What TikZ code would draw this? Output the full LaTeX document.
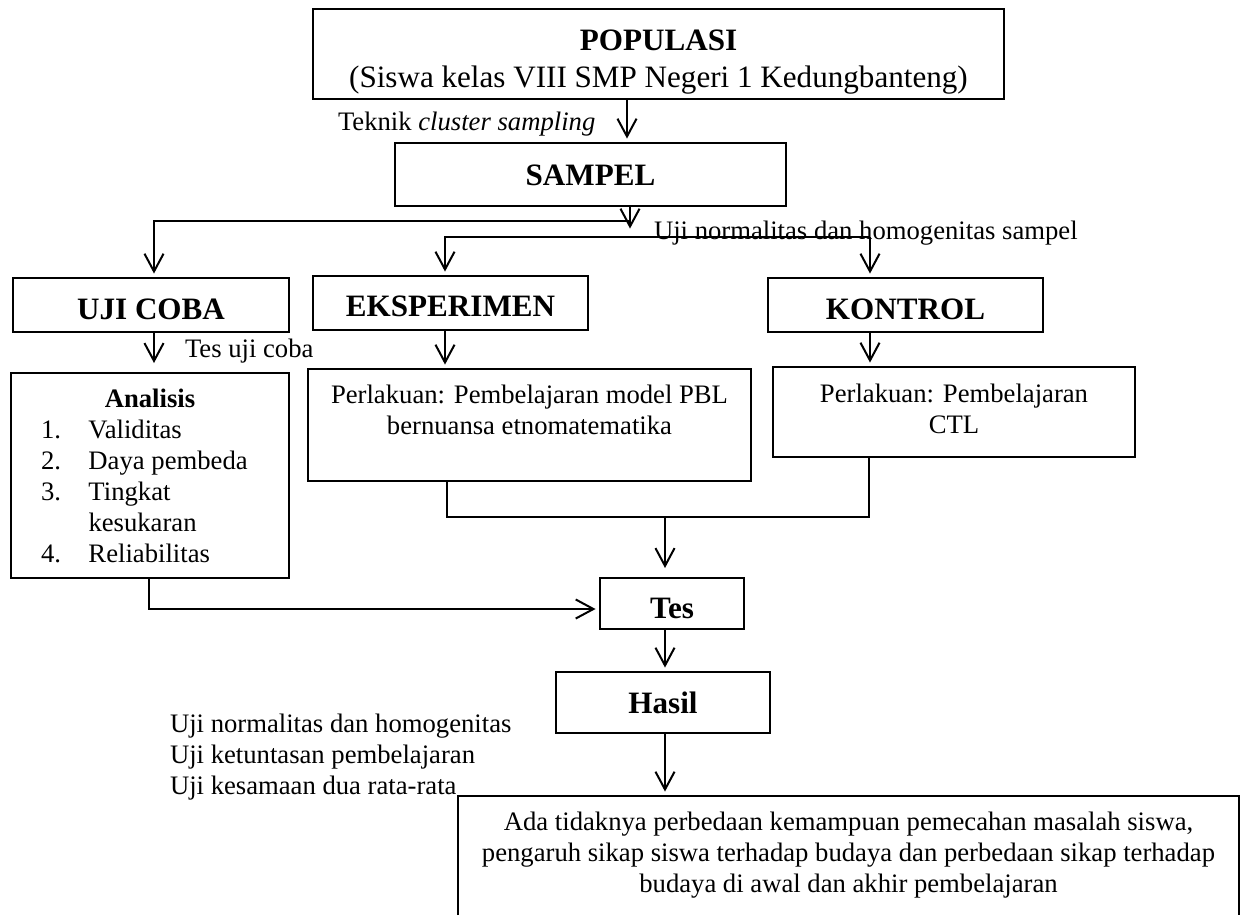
\documentclass[tikz,border=0pt]{standalone}
\usepackage{fontspec}
\setmainfont{Liberation Serif}
\usetikzlibrary{arrows.meta}
\newlength\pxs \setlength\pxs{0.45pt}
\newcommand\mybox[5]{\parbox[c][#2\pxs][t]{#1\pxs}{\vspace*{#3\pxs}\centering\rule{0pt}{#4\pxs}#5\par}}
\begin{document}
\begin{tikzpicture}[x=0.45pt, y=-0.45pt, line width=0.9pt,
  box/.style={draw, inner sep=0pt, outer sep=0pt},
  ttl/.style={box, font=\fontsize{14}{16.65}\selectfont\bfseries},
  big/.style={box, font=\fontsize{14}{16.65}\selectfont},
  bod/.style={box, font=\fontsize{12}{13.95}\selectfont},
  lbl/.style={inner sep=0pt, anchor=base west, font=\fontsize{12}{13.95}\selectfont},
  arr/.style={-{Straight Barb[length=8pt,width=8.6pt]}, shorten >=2pt},
  arrl/.style={arr, shorten >=4.5pt}]
\useasboundingbox (0,0) rectangle (1244,915);
\fill[white] (0,0) rectangle (1244,915);

% boxes
\node[big] (pop) at (658.5,54) {\mybox{691}{90}{19}{22}{\textbf{POPULASI}\\(Siswa kelas VIII SMP Negeri 1 Kedungbanteng)}};
\node[ttl] (sam) at (590.5,174.5) {\mybox{391}{63}{20}{22}{SAMPEL}};
\node[ttl] (uji) at (151,305) {\mybox{276}{54}{19}{22}{UJI COBA}};
\node[ttl] (eks) at (450.5,303) {\mybox{275}{54}{18}{22}{EKSPERIMEN}};
\node[ttl] (kon) at (905.5,305) {\mybox{275}{54}{19}{22}{KONTROL}};
\node[bod] (ana) at (150,475.5) {\mybox{278}{205}{15}{19}{\textbf{Analisis}\par\raggedright\hspace*{30\pxs}\begin{tabular}[t]{@{}p{47.5\pxs}@{}l@{}}1.&Validitas\\2.&Daya pembeda\\3.&Tingkat\\&kesukaran\\4.&Reliabilitas\end{tabular}}};
\node[bod] (pbl) at (529.5,425) {\mybox{443}{112}{15}{19}{Perlakuan: Pembelajaran model PBL\\bernuansa etnomatematika}};
\node[bod] (ctl) at (954,412) {\mybox{362}{90}{16}{19}{Perlakuan: Pembelajaran\\CTL}};
\node[ttl] (tes) at (672,603.5) {\mybox{144}{51}{18}{22}{Tes}};
\node[ttl] (has) at (663,702.5) {\mybox{214}{61}{19}{22}{Hasil}};
\node[bod, draw=none] (fin) at (848.5,855.5) {\mybox{781}{119}{15}{19}{Ada tidaknya perbedaan kemampuan pemecahan masalah siswa,\\pengaruh sikap siswa terhadap budaya dan perbedaan sikap terhadap\\budaya di awal dan akhir pembelajaran}};
\draw (fin.south west) -- (fin.north west) -- (fin.north east) -- (fin.south east);

% labels
\node[lbl] (tek) at (337,130) {Teknik \textit{cluster sampling}};
\node[lbl] (uns) at (653,239) {Uji normalitas dan homogenitas sampel};
\node[lbl] (tuc) at (184,357) {Tes uji coba};
\node[lbl] (ujl) at (169,732) {\begin{tabular}[t]{@{}l@{}}Uji normalitas dan homogenitas\\Uji ketuntasan pembelajaran\\Uji kesamaan dua rata-rata\end{tabular}};

% junction coordinates
\coordinate (xp) at (627,120);
\coordinate (sp) at (630,233);
\coordinate (jc) at (630,221);
\coordinate (ju) at (154,221);
\coordinate (je) at (445,237);
\coordinate (jk) at (870,237);
\coordinate (bl) at (447,517);
\coordinate (br) at (869,517);
\coordinate (bm) at (665,517);
\coordinate (ak) at (149,609);

% connectors
\draw[arr] (xp |- pop.south) -- (xp |- sam.north);
\draw[arr] (sp |- sam.south) -- (sp);
\draw[arr] (jc) -- (ju) -- (ju |- uji.north);
\draw[arr] (jk) -- (je) -- (je |- eks.north);
\draw[arr] (jk) -- (jk |- kon.north);
\draw[arrl] (ju |- uji.south) -- (ju |- ana.north);
\draw[arr] (je |- eks.south) -- (je |- pbl.north);
\draw[arr] (jk |- kon.south) -- (jk |- ctl.north);
\draw (bl |- pbl.south) -- (bl) -- (br) -- (br |- ctl.south);
\draw[arrl] (bm) -- (bm |- tes.north);
\draw[arr] (ak |- ana.south) -- (ak) -- (ak -| tes.west);
\draw[arr] (bm |- tes.south) -- (bm |- has.north);
\draw[arr] (bm |- has.south) -- (bm |- fin.north);
\end{tikzpicture}
\end{document}
